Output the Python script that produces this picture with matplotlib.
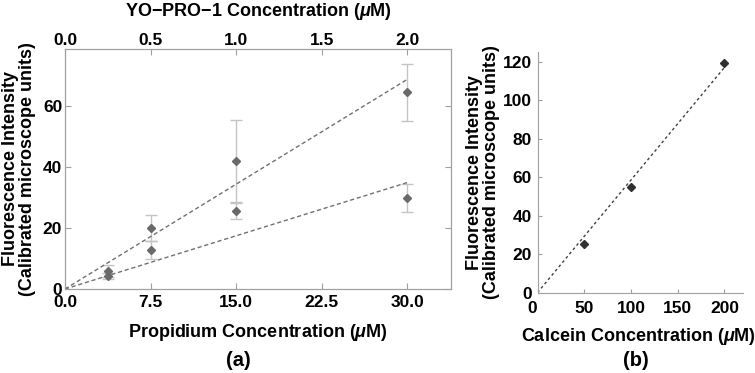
import matplotlib
matplotlib.use("Agg")
import matplotlib.pyplot as plt
import matplotlib.transforms as mtrans
import numpy as np

plt.rcParams['font.family'] = ['Liberation Sans', 'DejaVu Sans']
plt.rcParams['font.weight'] = 'bold'
plt.rcParams['mathtext.fontset'] = 'custom'
plt.rcParams['mathtext.it'] = 'Liberation Sans:italic:bold'
plt.rcParams['mathtext.rm'] = 'Liberation Sans:bold'

# panel (a): propidium / YO-PRO-1
conc_a = [3.75, 7.5, 15.0, 30.0]
upper_vals = [6.0, 20.0, 41.9, 64.5]
upper_err = [2.0, 4.4, 13.4, 9.3]
lower_vals = [4.2, 12.7, 25.6, 29.7]
lower_err = [1.0, 3.0, 2.6, 4.6]
fit_upper_slope = 2.29
fit_lower_slope = 1.163
top_ticks = [0.0, 0.5, 1.0, 1.5, 2.0]
bottom_ticks = [0.0, 7.5, 15.0, 22.5, 30.0]

# panel (b): calcein
conc_b = [50, 100, 200]
calcein_vals = [25.3, 54.9, 119.1]
fit_b_slope = 0.585

fig = plt.figure(figsize=(7.55, 3.73), dpi=100)
W, H = 755, 373

def box(x0, y0, x1, y1):
    return [x0 / W, 1 - y1 / H, (x1 - x0) / W, (y1 - y0) / H]

frame = '#a0a0a0'
fs = 12.5
lfs = 13

# ---- (a)
ax = fig.add_axes(box(65, 49, 451, 289))
ax.errorbar(conc_a, upper_vals, yerr=upper_err, fmt='none', ecolor='#c4c4c4',
            elinewidth=1, capsize=4, capthick=1)
ax.errorbar(conc_a, lower_vals, yerr=lower_err, fmt='none', ecolor='#c4c4c4',
            elinewidth=1, capsize=4, capthick=1)
ax.plot(conc_a, upper_vals, 'D', color='#6a6a6a', ms=4.5)
ax.plot(conc_a, lower_vals, 'D', color='#6a6a6a', ms=4.5)
xf = np.array([0, 30])
ax.plot(xf, fit_upper_slope * xf, '--', color='#707070', lw=1, dashes=(3, 2))
ax.plot(xf, fit_lower_slope * xf, '--', color='#707070', lw=1, dashes=(3, 2))
ax.set_xlim(0, 33.85)
ax.set_ylim(0, 78.7)
ax.set_xticks(bottom_ticks)
ax.set_xticklabels(['%.1f' % t for t in bottom_ticks])
ax.set_yticks([0, 20, 40, 60])
for s in ax.spines.values():
    s.set_color(frame)
ax.tick_params(direction='in', length=4, color=frame, labelsize=fs,
               top=False, right=True)
ax.tick_params(axis='x', pad=4)
ax.tick_params(axis='y', pad=2)
ax.set_xlabel('Propidium Concentration ($\\mu$M)', fontsize=lfs, fontweight='bold',
              labelpad=9)
ax.set_ylabel('Fluorescence Intensity\n(Calibrated microscope units)', fontsize=lfs,
              fontweight='bold', labelpad=5, linespacing=1.0)

ax2 = ax.twiny()
ax2.set_xlim(0, 33.85 / 15)
ax2.set_xticks(top_ticks)
ax2.set_xticklabels(['%.1f' % t for t in top_ticks])
for s in ax2.spines.values():
    s.set_color(frame)
ax2.tick_params(direction='in', length=4, color=frame, labelsize=fs, pad=1)
ax2.set_xlabel('YO\u2212PRO\u22121 Concentration ($\\mu$M)', fontsize=lfs,
               fontweight='bold', labelpad=12)
for lab in ax.get_xticklabels() + ax.get_yticklabels() + ax2.get_xticklabels():
    lab.set_fontweight('bold')

fig.text(238 / W, 1 - 360 / H, '(a)', ha='center', va='center', fontsize=14.5,
         fontweight='bold')

# ---- (b)
bx = fig.add_axes(box(537.5, 52, 742.7, 292.6))
bx.plot(conc_b, calcein_vals, 'D', color='#303030', ms=4)
xb = np.array([0, 200])
bx.plot(xb, fit_b_slope * xb, color='#404040', lw=1, dashes=(2, 2))
bx.set_xlim(0, 219.5)
bx.set_ylim(0, 125)
bx.set_xticks([0, 50, 100, 150, 200])
bx.set_yticks([0, 20, 40, 60, 80, 100, 120])
bx.spines['top'].set_visible(False)
bx.spines['right'].set_visible(False)
bx.spines['left'].set_color(frame)
bx.spines['bottom'].set_color(frame)
bx.tick_params(direction='in', length=3, color=frame, labelsize=fs)
bx.tick_params(axis='x', pad=6)
bx.tick_params(axis='y', pad=4)
for lab in bx.get_xticklabels() + bx.get_yticklabels():
    lab.set_fontweight('bold')
bx.set_xlabel('Calcein Concentration ($\\mu$M)', fontsize=lfs, fontweight='bold',
              labelpad=4)
bx.xaxis.set_label_coords((638 - 537.5) / (742.7 - 537.5), -0.14)
bx.set_ylabel('Fluorescence Intensity\n(Calibrated microscope units)', fontsize=lfs,
              fontweight='bold', labelpad=2, linespacing=1.0)

fig.text(636 / W, 1 - 360 / H, '(b)', ha='center', va='center', fontsize=14.5,
         fontweight='bold')

# the x "0" sits a little left of the origin, as in the original
fig.canvas.draw()
shift = mtrans.ScaledTranslation(-5 / 100, 0, fig.dpi_scale_trans)
zero_lab = bx.xaxis.get_major_ticks()[0].label1
zero_lab.set_transform(zero_lab.get_transform() + shift)

fig.savefig('out.png', dpi=100)
